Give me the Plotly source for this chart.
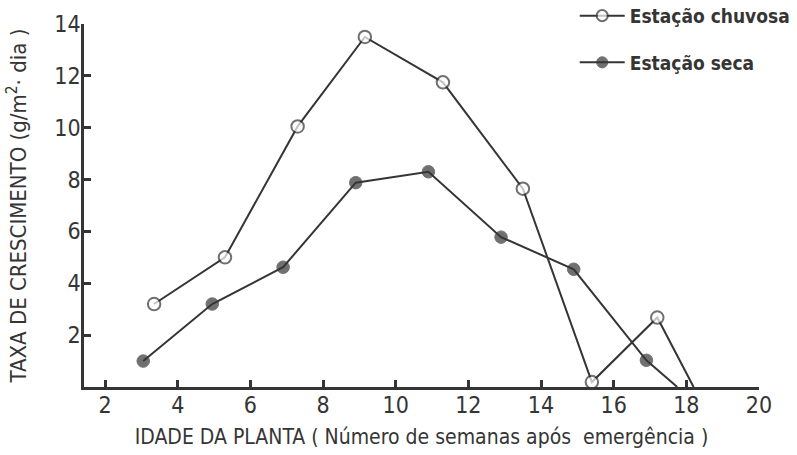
import plotly.graph_objects as go

# Semanas após emergência e taxa de crescimento (g/m²·dia)
semanas_chuvosa = [3.35, 5.3, 7.3, 9.15, 11.3, 13.5, 15.4, 17.2, 18.2]
taxa_chuvosa = [3.2, 5.0, 10.05, 13.5, 11.75, 7.65, 0.19, 2.68, 0.0]

semanas_seca = [3.05, 4.95, 6.9, 8.9, 10.9, 12.9, 14.9, 16.9, 17.75]
taxa_seca = [1.0, 3.2, 4.62, 7.88, 8.3, 5.78, 4.54, 1.03, 0.0]

x_ticks = [2, 4, 6, 8, 10, 12, 14, 16, 18, 20]
y_ticks = [2, 4, 6, 8, 10, 12, 14]

INK = "#353535"
FONT = "DejaVu Sans Condensed, DejaVu Sans, sans-serif"

def marker_sizes(n):
    # the last vertex only closes the line on the axis, no marker drawn there
    return [12.5] * (n - 1) + [0]

fig = go.Figure()
fig.add_trace(go.Scatter(
    x=semanas_chuvosa, y=taxa_chuvosa, mode="lines+markers",
    name="<b>Estação chuvosa</b>", legendgroup="a",
    line=dict(color=INK, width=2),
    marker=dict(symbol="circle", size=marker_sizes(len(semanas_chuvosa)),
                color="white", line=dict(color=INK, width=2)),
    cliponaxis=False,
))
fig.add_trace(go.Scatter(
    x=semanas_seca, y=taxa_seca, mode="lines+markers",
    name="<b>Estação seca</b>", legendgroup="b",
    line=dict(color=INK, width=2),
    marker=dict(symbol="circle", size=marker_sizes(len(semanas_seca)),
                color=INK, line=dict(color=INK, width=1)),
    cliponaxis=False,
))

fig.update_layout(
    width=797, height=455,
    margin=dict(l=84, r=38, t=24, b=68, autoexpand=False),
    paper_bgcolor="white", plot_bgcolor="white",
    font=dict(family=FONT, color=INK, size=20),
    legend=dict(x=0.727, xanchor="left", y=1.075, yanchor="top",
                font=dict(size=19, color=INK), tracegroupgap=19,
                itemwidth=45, bgcolor="rgba(0,0,0,0)"),
    xaxis=dict(
        range=[1.42, 20], tickvals=x_ticks, ticktext=[str(v) for v in x_ticks],
        showgrid=False, zeroline=False, showline=True, linecolor=INK, linewidth=2.5,
        ticks="inside", ticklen=7, tickwidth=2.5, tickcolor=INK,
        tickfont=dict(size=23, color=INK), ticklabelstandoff=-4,
        title=dict(text="IDADE DA PLANTA ( Número de semanas após  emergência )",
                   font=dict(size=21, color=INK), standoff=12),
    ),
    yaxis=dict(
        range=[0, 14], tickvals=y_ticks, ticktext=[str(v) for v in y_ticks],
        showgrid=False, zeroline=False, showline=True, linecolor=INK, linewidth=2.5,
        ticks="inside", ticklen=7, tickwidth=2.5, tickcolor=INK,
        tickfont=dict(size=23, color=INK), ticklabelstandoff=-4,
        title=dict(text="TAXA DE CRESCIMENTO (g/m<sup>2</sup>· dia )",
                   font=dict(size=22, color=INK), standoff=22),
    ),
)

fig.write_html("out.html")
